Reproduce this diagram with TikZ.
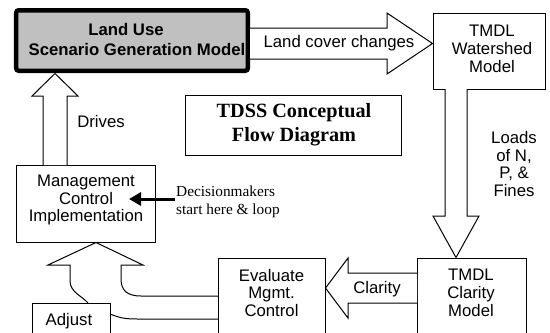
\documentclass[tikz,border=0pt]{standalone}
\usepackage{fontspec}
\setmainfont{Liberation Sans}
\newfontfamily\serifface{Liberation Serif}
\usetikzlibrary{arrows.meta}
\definecolor{boxgray}{RGB}{192,192,192}
\tikzset{
  box/.style={draw=black, line width=1bp, fill=white, inner sep=0pt},
  blockarrow/.style={draw=black, line width=1bp, fill=white, line join=miter},
  sanslabel/.style={inner sep=0pt, align=center, font=\fontsize{16.8}{18}\selectfont},
  boldlabel/.style={inner sep=0pt, align=center, font=\fontsize{16.8}{20}\selectfont\bfseries},
  titlelabel/.style={inner sep=0pt, align=center, font=\serifface\fontsize{20.3}{24}\selectfont\bfseries},
  notelabel/.style={inner sep=0pt, align=left, font=\serifface\fontsize{15.4}{18}\selectfont},
}
\begin{document}
\begin{tikzpicture}[x=1bp,y=-1bp]
\useasboundingbox (0,0) rectangle (550,332);
\clip (0,0) rectangle (550,332);
\fill[white] (0,0) rectangle (550,332);

% boxes
\node[draw=black, line width=4.5bp, fill=boxgray, rounded corners=2.5bp,
      minimum width=231.5bp, minimum height=60.5bp, inner sep=0pt] (landuse) at (132,40.5) {};
\node[box, minimum width=112bp, minimum height=76bp] (watershed) at (489,51) {};
\node[box, minimum width=216bp, minimum height=60bp] (tdss) at (293,125) {};
\node[box, minimum width=138bp, minimum height=77bp] (mgmt) at (86,203.5) {};
\node[box, minimum width=107bp, minimum height=90bp] (eval) at (271.5,303) {};
\node[box, minimum width=109bp, minimum height=90bp] (clarity) at (471.5,303) {};
\node[box, minimum width=78bp, minimum height=50bp] (adjust) at (71,328) {};

% block arrows
\draw[blockarrow] (250,28) -- (387,28) -- (387,13) -- (432.5,43.5) -- (387,74) -- (387,59) -- (250,59);
\draw[blockarrow] (445,89) -- (445,216) -- (433,216) -- (456,257.5) -- (479,216) -- (467,216) -- (467,89);
\draw[blockarrow] (417,273) -- (348,273) -- (348,258) -- (325.5,288) -- (348,318) -- (348,303) -- (417,303);
\draw[blockarrow] (43,165) -- (43,96) -- (32,96) -- (55,73.5) -- (78,96) -- (67,96) -- (67,165);
\draw[blockarrow, fill=none] (88,303) .. controls (82,296) and (70,292) .. (70,281) -- (70,265) -- (48,265)
   -- (96,242.5) -- (143,265) -- (121,265) -- (121,279) .. controls (121,291) and (128,296) .. (141,296) -- (218,296);
\draw[black, line width=1bp] (110,314) .. controls (120,318) and (125,319) .. (138,319) -- (218,319);

% decisionmakers arrow
\coordinate (dmstart) at (175,199);
\draw[black, line width=3bp, -{Triangle[length=12bp,width=13bp]}] (dmstart) -- (129,199);

% texts
\node[boldlabel] (t1) at (126,30) {Land Use};
\node[boldlabel] (t2) at (137,50) {Scenario Generation Model};
\node[sanslabel] (t3) at (339,43) {Land cover changes};
\node[sanslabel] (t4) at (492,49) {TMDL\\Watershed\\Model};
\node[titlelabel] (t5) at (294,125) {TDSS Conceptual\\Flow Diagram};
\node[sanslabel] (t6) at (101,122) {Drives};
\node[sanslabel] (t7) at (514,164) {Loads\\of N,\\P, \&\\Fines};
\node[sanslabel] (t8) at (86,200) {Management\\Control\\Implementation};
\node[notelabel, anchor=west] (t9) at (176,202) {Decisionmakers\\start here \& loop};
\node[sanslabel] (t10) at (271.5,293) {Evaluate\\Mgmt.\\Control};
\node[sanslabel] (t11) at (377,289) {Clarity};
\node[sanslabel] (t12) at (471,293) {TMDL\\Clarity\\Model};
\node[sanslabel] (t13) at (69,321) {Adjust};
\end{tikzpicture}
\end{document}
